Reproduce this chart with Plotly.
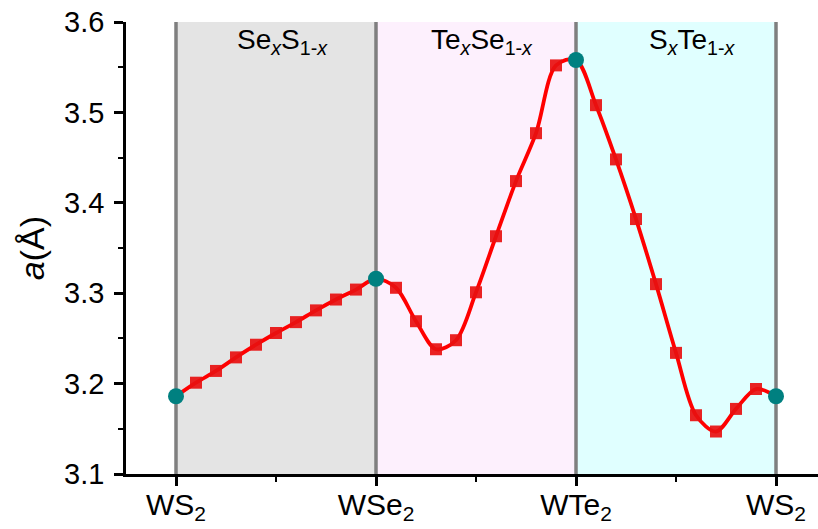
import numpy as np
import plotly.graph_objects as go

# Lattice constant a (Å) along the WS2 -> WSe2 -> WTe2 -> WS2 alloy path, x step 0.1
seg_se_s = [3.186, 3.201, 3.214, 3.229, 3.243, 3.256, 3.268, 3.281, 3.293, 3.304, 3.316]
seg_te_se = [3.306, 3.269, 3.238, 3.248, 3.301, 3.363, 3.424, 3.477, 3.552, 3.558]
seg_s_te = [3.508, 3.448, 3.382, 3.310, 3.234, 3.165, 3.147, 3.172, 3.194, 3.186]

lattice_a = seg_se_s + seg_te_se + seg_s_te
path_pos = np.round(np.arange(len(lattice_a)) * 0.1, 1)

end_members = ["WS<sub>2</sub>", "WSe<sub>2</sub>", "WTe<sub>2</sub>", "WS<sub>2</sub>"]
end_pos = [0, 1, 2, 3]
region_labels = ["Se<sub><i>x</i></sub>S<sub>1-<i>x</i></sub>",
                 "Te<sub><i>x</i></sub>Se<sub>1-<i>x</i></sub>",
                 "S<sub><i>x</i></sub>Te<sub>1-<i>x</i></sub>"]
region_label_pos = [0.53, 1.53, 2.58]
region_colors = ["#e4e4e4", "#fdf0fd", "#e0ffff"]

y_min, y_max = 3.1, 3.6

is_end = np.isin(path_pos, end_pos)
fig = go.Figure()

fig.add_trace(go.Scatter(
    x=path_pos, y=lattice_a, mode="lines",
    line=dict(color="#ff0000", width=3.8, shape="spline", smoothing=0.9),
    hoverinfo="skip", showlegend=False))
fig.add_trace(go.Scatter(
    x=path_pos[~is_end], y=np.array(lattice_a)[~is_end], mode="markers",
    marker=dict(symbol="square", size=12, color="rgba(232,16,16,0.92)", line=dict(width=0)),
    showlegend=False))
fig.add_trace(go.Scatter(
    x=path_pos[is_end], y=np.array(lattice_a)[is_end], mode="markers",
    marker=dict(symbol="circle", size=16, color="#008080", line=dict(width=0)),
    showlegend=False))

shapes = []
for i, c in enumerate(region_colors):
    shapes.append(dict(type="rect", xref="x", yref="y", x0=end_pos[i], x1=end_pos[i + 1],
                       y0=y_min, y1=y_max, fillcolor=c, line=dict(width=0), layer="below"))
for p in end_pos:
    shapes.append(dict(type="line", xref="x", yref="y", x0=p, x1=p, y0=y_min, y1=y_max,
                       line=dict(color="#7f7f7f", width=3.5), layer="below"))

annotations = [dict(x=xp, y=y_max, xref="x", yref="y", text=t, showarrow=False,
                    yanchor="top", yshift=0, font=dict(size=28, color="black",
                    family="Liberation Sans, Arial"))
               for xp, t in zip(region_label_pos, region_labels)]

fig.update_layout(
    width=818, height=529,
    margin=dict(l=126, r=0, t=22, b=55),
    plot_bgcolor="white", paper_bgcolor="white",
    font=dict(family="Liberation Sans, Arial", color="black"),
    shapes=shapes, annotations=annotations,
    xaxis=dict(range=[-0.25, 3.21], tickvals=end_pos, ticktext=end_members,
               automargin=False, ticklabelstandoff=-7,
               showgrid=False, zeroline=False, showline=True, linecolor="black", linewidth=2.5,
               ticks="outside", ticklen=9, tickwidth=2.5, tickcolor="black",
               tickfont=dict(size=30),
               minor=dict(tickvals=[0.5, 1.5, 2.5], ticks="outside", ticklen=5, tickwidth=2,
                          tickcolor="black")),
    yaxis=dict(range=[y_min, y_max], dtick=0.1, tickformat=".1f",
               automargin=False, ticklabelstandoff=4,
               showgrid=False, zeroline=False, showline=True, linecolor="black", linewidth=2.5,
               ticks="outside", ticklen=9, tickwidth=2.5, tickcolor="black",
               tickfont=dict(size=29),
               title=dict(text="<i>a</i>(Å)", font=dict(size=34), standoff=10),
               minor=dict(dtick=0.05, ticks="outside", ticklen=5, tickwidth=2,
                          tickcolor="black")),
)

fig.write_html("out.html")
